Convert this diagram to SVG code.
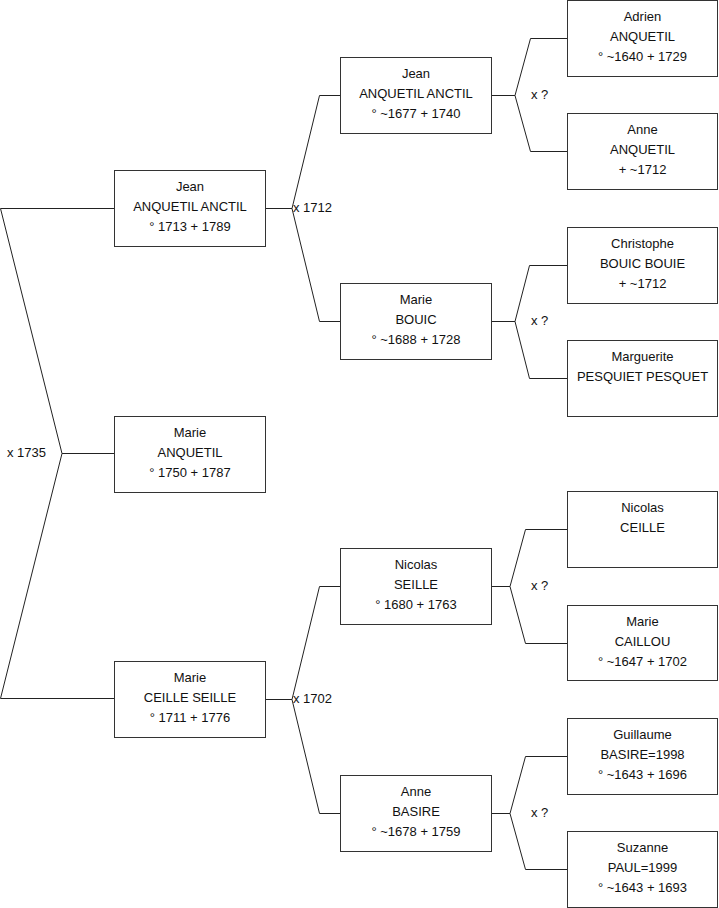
<svg xmlns="http://www.w3.org/2000/svg" width="719" height="908" viewBox="0 0 719 908">
<style>
.box{fill:#fff;stroke:#333;stroke-width:1}
.ln{fill:none;stroke:#222;stroke-width:1}
text{font-family:"Liberation Sans",Arial,sans-serif;font-size:13px;fill:#111}
.c{text-anchor:middle}
</style>
<rect x="0" y="0" width="719" height="908" fill="#fff"/>
<g id="connectors">
<path class="ln" d="M114,208.5 H0.5 L62,453.5 L0.5,698.5 H114 M62,453.5 H114"/>
<path class="ln" d="M265,208.5 H292 M340,95.5 H319.5 L292,208.5 L319.5,321.5 H340"/>
<path class="ln" d="M265,699.5 H292 M340,586.5 H319.5 L292,699.5 L319.5,813.5 H340"/>
<path class="ln" d="M491,95.5 H515 M567,38.5 H530.5 L515,95.5 L530.5,151.5 H567"/>
<path class="ln" d="M491,321.5 H515 M567,265.5 H529.5 L515,321.5 L529.5,378.5 H567"/>
<path class="ln" d="M491,586.5 H510 M567,529.5 H525.5 L510,586.5 L525.5,643.5 H567"/>
<path class="ln" d="M491,813.5 H510 M567,756.5 H525.5 L510,813.5 L525.5,869.5 H567"/>
<text x="7" y="457">x 1735</text>
<text x="293" y="212">x 1712</text>
<text x="293" y="703">x 1702</text>
<text x="531" y="99">x ?</text>
<text x="531" y="325">x ?</text>
<text x="531" y="590">x ?</text>
<text x="531" y="817">x ?</text>
</g>
<g id="n1"><rect class="box" x="114.5" y="170.5" width="151" height="76"/>
<text class="c" x="190" y="191">Jean</text><text class="c" x="190" y="211">ANQUETIL ANCTIL</text><text class="c" x="190" y="231">° 1713 + 1789</text></g>
<g id="n2"><rect class="box" x="114.5" y="416.5" width="151" height="76"/>
<text class="c" x="190" y="437">Marie</text><text class="c" x="190" y="457">ANQUETIL</text><text class="c" x="190" y="477">° 1750 + 1787</text></g>
<g id="n3"><rect class="box" x="114.5" y="661.5" width="151" height="76"/>
<text class="c" x="190" y="682">Marie</text><text class="c" x="190" y="702">CEILLE SEILLE</text><text class="c" x="190" y="722">° 1711 + 1776</text></g>
<g id="n4"><rect class="box" x="340.5" y="57.5" width="151" height="76"/>
<text class="c" x="416" y="78">Jean</text><text class="c" x="416" y="98">ANQUETIL ANCTIL</text><text class="c" x="416" y="118">° ~1677 + 1740</text></g>
<g id="n5"><rect class="box" x="340.5" y="283.5" width="151" height="76"/>
<text class="c" x="416" y="304">Marie</text><text class="c" x="416" y="324">BOUIC</text><text class="c" x="416" y="344">° ~1688 + 1728</text></g>
<g id="n6"><rect class="box" x="340.5" y="548.5" width="151" height="76"/>
<text class="c" x="416" y="569">Nicolas</text><text class="c" x="416" y="589">SEILLE</text><text class="c" x="416" y="609">° 1680 + 1763</text></g>
<g id="n7"><rect class="box" x="340.5" y="775.5" width="151" height="76"/>
<text class="c" x="416" y="796">Anne</text><text class="c" x="416" y="816">BASIRE</text><text class="c" x="416" y="836">° ~1678 + 1759</text></g>
<g id="n8"><rect class="box" x="567.5" y="0.5" width="150" height="76"/>
<text class="c" x="642.5" y="21">Adrien</text><text class="c" x="642.5" y="41">ANQUETIL</text><text class="c" x="642.5" y="61">° ~1640 + 1729</text></g>
<g id="n9"><rect class="box" x="567.5" y="113.5" width="150" height="76"/>
<text class="c" x="642.5" y="134">Anne</text><text class="c" x="642.5" y="154">ANQUETIL</text><text class="c" x="642.5" y="174">+ ~1712</text></g>
<g id="n10"><rect class="box" x="567.5" y="227.5" width="150" height="76"/>
<text class="c" x="642.5" y="248">Christophe</text><text class="c" x="642.5" y="268">BOUIC BOUIE</text><text class="c" x="642.5" y="288">+ ~1712</text></g>
<g id="n11"><rect class="box" x="567.5" y="340.5" width="150" height="76"/>
<text class="c" x="642.5" y="361">Marguerite</text><text class="c" x="642.5" y="381">PESQUIET PESQUET</text></g>
<g id="n12"><rect class="box" x="567.5" y="491.5" width="150" height="76"/>
<text class="c" x="642.5" y="512">Nicolas</text><text class="c" x="642.5" y="532">CEILLE</text></g>
<g id="n13"><rect class="box" x="567.5" y="605.5" width="150" height="75"/>
<text class="c" x="642.5" y="626">Marie</text><text class="c" x="642.5" y="646">CAILLOU</text><text class="c" x="642.5" y="666">° ~1647 + 1702</text></g>
<g id="n14"><rect class="box" x="567.5" y="718.5" width="150" height="76"/>
<text class="c" x="642.5" y="739">Guillaume</text><text class="c" x="642.5" y="759">BASIRE=1998</text><text class="c" x="642.5" y="779">° ~1643 + 1696</text></g>
<g id="n15"><rect class="box" x="567.5" y="831.5" width="150" height="76"/>
<text class="c" x="642.5" y="852">Suzanne</text><text class="c" x="642.5" y="872">PAUL=1999</text><text class="c" x="642.5" y="892">° ~1643 + 1693</text></g>
</svg>
